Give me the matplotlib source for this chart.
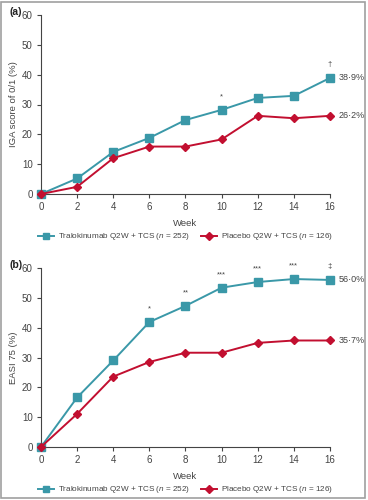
#!/usr/bin/env python3
"""
Tralokinumab vs placebo: IGA 0/1 and EASI 75 responders by week
"""

import matplotlib
matplotlib.use('Agg')
import matplotlib.pyplot as plt
from matplotlib.patches import Rectangle

plt.rcParams['font.family'] = ['Liberation Sans', 'DejaVu Sans']
plt.rcParams['mathtext.fontset'] = 'custom'
plt.rcParams['mathtext.it'] = 'Liberation Sans:italic'
plt.rcParams['mathtext.rm'] = 'Liberation Sans'

# Data
weeks = [0, 2, 4, 6, 8, 10, 12, 14, 16]

iga_tralo = [0, 5.2, 14.1, 18.8, 24.8, 28.2, 32.2, 32.9, 38.9]
iga_placebo = [0, 2.4, 12.0, 15.9, 15.9, 18.3, 26.2, 25.4, 26.2]
iga_sig = ['', '', '', '', '', '*', '', '', '\u2020']

easi_tralo = [0, 16.6, 29.0, 41.9, 47.3, 53.4, 55.3, 56.3, 56.0]
easi_placebo = [0, 11.1, 23.6, 28.5, 31.6, 31.6, 34.9, 35.7, 35.7]
easi_sig = ['', '', '', '*', '**', '***', '***', '***', '\u2021']

label_tralo = 'Tralokinumab Q2W + TCS ($\\it{n}$ = 252)'
label_placebo = 'Placebo Q2W + TCS ($\\it{n}$ = 126)'

TEAL = '#3a98a8'
RED = '#c20f30'
GREY = '#444444'


def draw_panel(fig, rect, tralo, placebo, sig, ylabel, tag):
    ax = fig.add_axes(rect)
    ax.plot(weeks, tralo, color=TEAL, marker='s', markersize=5.5, lw=1.4,
            clip_on=False, zorder=3, label=label_tralo)
    ax.plot(weeks, placebo, color=RED, marker='D', markersize=4.5, lw=1.4,
            clip_on=False, zorder=3, label=label_placebo)

    # significance markers above the tralokinumab points
    for w, v, s in zip(weeks, tralo, sig):
        if s:
            ax.annotate(s, (w, v), xytext=(0, 7), textcoords='offset points',
                        ha='center', va='bottom', fontsize=5.5, color=GREY)

    # end of study values
    for series in (tralo, placebo):
        txt = f"{series[-1]:.1f}%".replace('.', '\u00b7')
        ax.annotate(txt, (weeks[-1], series[-1]), xytext=(6, 0),
                    textcoords='offset points', ha='left', va='center',
                    fontsize=6.5, color=GREY)

    ax.set_xlim(0, 16)
    ax.set_ylim(0, 60)
    ax.set_xticks(range(0, 17, 2))
    ax.set_yticks(range(0, 61, 10))
    ax.spines['top'].set_visible(False)
    ax.spines['right'].set_visible(False)
    for sp in ('left', 'bottom'):
        ax.spines[sp].set_color(GREY)
        ax.spines[sp].set_linewidth(0.8)
    ax.tick_params(direction='out', length=3, width=0.8, colors=GREY,
                   labelsize=7, pad=3)
    ax.set_xlabel('Week', fontsize=6.8, color=GREY, labelpad=5)
    ax.set_ylabel(ylabel, fontsize=6.8, color=GREY, labelpad=3)

    ax.text(-0.065, 1.015, tag, transform=ax.transAxes, fontsize=7.5,
            fontweight='bold', ha='right', va='center', color='#222222')

    ax.legend(loc='center', bbox_to_anchor=(0.5, -0.24), ncol=2,
              frameon=False, fontsize=5.9, handlelength=2.0,
              columnspacing=1.3, handletextpad=0.5, labelcolor=GREY,
              borderaxespad=0, borderpad=0, markerscale=0.9)
    return ax


fig = plt.figure(figsize=(3.68, 5.0), dpi=100)

draw_panel(fig, [0.1114, 0.612, 0.7853, 0.358], iga_tralo, iga_placebo,
           iga_sig, 'IGA score of 0/1 (%)', '(a)')
draw_panel(fig, [0.1114, 0.106, 0.7853, 0.358], easi_tralo, easi_placebo,
           easi_sig, 'EASI 75 (%)', '(b)')

# grey frame around the figure
fig.patches.append(Rectangle((0.003, 0.004), 0.989, 0.992, fill=False,
                             edgecolor='#a0a0a0', lw=1.2,
                             transform=fig.transFigure, figure=fig))

fig.savefig('out.png', dpi=100)
